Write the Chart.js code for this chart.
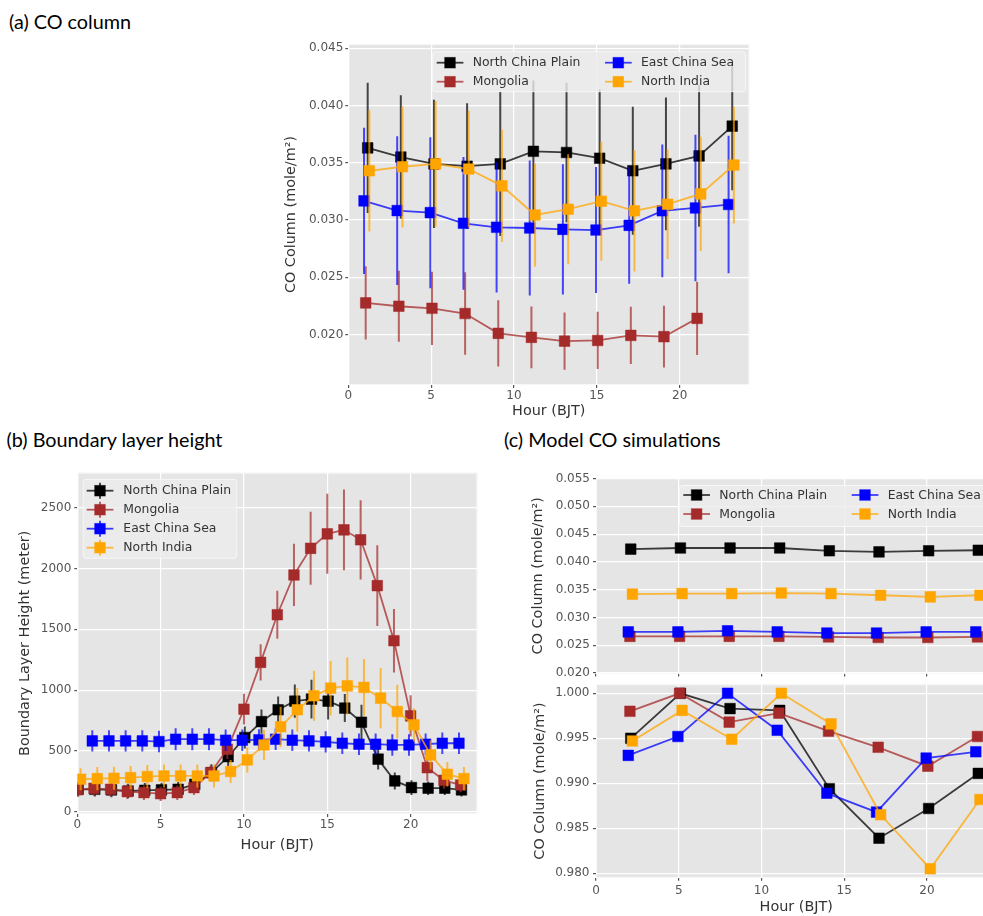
<!DOCTYPE html>
<html>
<head>
<meta charset="utf-8">
<script src="https://cdn.jsdelivr.net/npm/chart.js"></script>
<style>
  html, body { margin: 0; padding: 0; background: #fff; overflow: hidden; }
  body { position: relative; width: 983px; height: 916px; }
  .ptitle { position: absolute; font-family: Lato, sans-serif; font-size: 19.8px; line-height: 20px; color: #000; white-space: nowrap; }
  canvas { position: absolute; }
</style>
</head>
<body>
<div class="ptitle" style="left:9px;top:11px">(a) CO column</div>
<div class="ptitle" style="left:6.5px;top:428.5px">(b) Boundary layer height</div>
<div class="ptitle" style="left:504px;top:428.5px">(c) Model CO simulations</div>

<canvas id="chartA" width="500" height="400" style="left:260px;top:30px"></canvas>
<canvas id="chartB" width="480" height="400" style="left:0px;top:460px"></canvas>
<canvas id="chartC1" width="510" height="210" style="left:500px;top:470px"></canvas>
<canvas id="chartC2" width="510" height="236" style="left:500px;top:680px"></canvas>

<script>
// regions, in plotting order
const regions = ['North China Plain', 'Mongolia', 'East China Sea', 'North India'];
const regionColors = ['#000000', '#A52A2A', '#0000FF', '#FFA500'];

// tick values
const hourTicks = [0, 5, 10, 15, 20];
const columnTicksA = [0.020, 0.025, 0.030, 0.035, 0.040, 0.045];
const blhTicks = [0, 500, 1000, 1500, 2000, 2500];
const modelTicks = [0.020, 0.025, 0.030, 0.035, 0.040, 0.045, 0.050, 0.055];
const normTicks = [0.980, 0.985, 0.990, 0.995, 1.000];

// (a) observed CO column (mole/m2), every 2 hours
const hoursA = [1, 3, 5, 7, 9, 11, 13, 15, 17, 19, 21, 23];
const ncpColumn = [0.0363, 0.0355, 0.0349, 0.0347, 0.0349, 0.0360, 0.0359, 0.0354, 0.0343, 0.0349, 0.0356, 0.0382];
const ncpColumnErr = [0.0057, 0.0054, 0.0056, 0.0055, 0.0063, 0.0062, 0.0061, 0.0060, 0.0056, 0.0058, 0.0062, 0.0056];
const mongoliaColumn = [0.02275, 0.02246, 0.02228, 0.02182, 0.02009, 0.01974, 0.01941, 0.01947, 0.01991, 0.0198, 0.0214];
const mongoliaColumnErr = [0.0032, 0.0031, 0.0032, 0.0036, 0.0029, 0.0027, 0.0025, 0.0025, 0.0025, 0.0027, 0.0032];
const ecsColumn = [0.03167, 0.03082, 0.03064, 0.02971, 0.02936, 0.0293, 0.02918, 0.02912, 0.02953, 0.0308, 0.03105, 0.03135];
const ecsColumnErr = [0.0064, 0.0065, 0.0066, 0.0058, 0.0057, 0.0059, 0.0057, 0.0055, 0.0051, 0.0058, 0.0064, 0.0060];
const niColumn = [0.0343, 0.03465, 0.0349, 0.03445, 0.03298, 0.03044, 0.03094, 0.03164, 0.0308, 0.03138, 0.03228, 0.0348];
const niColumnErr = [0.0053, 0.0053, 0.0055, 0.0051, 0.0049, 0.0045, 0.0048, 0.0052, 0.0053, 0.0048, 0.0050, 0.0051];
const shiftA = [0.17, 0.05, -0.05, 0.27];

// (b) boundary layer height (meter), hourly
const hoursB = [0, 1, 2, 3, 4, 5, 6, 7, 8, 9, 10, 11, 12, 13, 14, 15, 16, 17, 18, 19, 20, 21, 22, 23];
const ncpBlh = [184, 184, 179, 170, 176, 179, 184, 225, 321, 453, 610, 741, 838, 909, 926, 909, 852, 736, 432, 253, 198, 193, 193, 179];
const ncpBlhErr = [60, 60, 60, 60, 60, 60, 60, 60, 70, 80, 90, 100, 110, 137, 160, 150, 115, 143, 85, 70, 60, 55, 55, 55];
const mongoliaBlh = [180, 192, 184, 165, 157, 148, 157, 198, 321, 514, 843, 1228, 1620, 1947, 2166, 2285, 2318, 2236, 1859, 1406, 788, 362, 258, 220];
const mongoliaBlhErr = [60, 60, 60, 60, 60, 60, 60, 60, 60, 80, 126, 150, 198, 256, 300, 329, 332, 326, 332, 261, 170, 110, 70, 60];
const hoursEcsB = [1, 2, 3, 4, 5, 6, 7, 8, 9, 10, 11, 12, 13, 14, 15, 16, 17, 18, 19, 20, 21, 22, 23];
const ecsBlh = [582, 582, 582, 582, 577, 596, 596, 596, 588, 588, 591, 596, 588, 582, 574, 563, 555, 555, 549, 549, 555, 563, 563];
const ecsBlhErr = [88, 88, 88, 88, 88, 90, 90, 90, 88, 88, 88, 88, 88, 88, 88, 88, 88, 88, 88, 88, 88, 88, 88];
const niBlh = [267, 272, 275, 280, 289, 294, 294, 294, 294, 330, 426, 549, 698, 838, 953, 1016, 1035, 1022, 934, 824, 714, 467, 308, 272];
const niBlhErr = [90, 95, 95, 95, 95, 95, 95, 95, 95, 95, 104, 124, 165, 180, 206, 223, 233, 233, 247, 220, 137, 120, 100, 95];
const shiftB = [0.05, 0, -0.1, 0.2];

// (c) model CO column (mole/m2) and normalised model CO, every 3 hours
const hoursC = [2, 5, 8, 11, 14, 17, 20, 23];
const ncpModel = [0.0423, 0.0425, 0.0425, 0.0425, 0.0420, 0.0418, 0.0420, 0.0421];
const mongoliaModel = [0.0266, 0.0266, 0.0266, 0.0266, 0.0265, 0.0264, 0.0264, 0.0265];
const ecsModel = [0.0274, 0.0274, 0.0276, 0.0274, 0.0272, 0.0272, 0.0274, 0.0274];
const niModel = [0.0342, 0.0343, 0.0343, 0.0344, 0.0343, 0.0340, 0.0337, 0.0340];
const ncpNorm = [0.9950, 1.0000, 0.9983, 0.9981, 0.9894, 0.9839, 0.9872, 0.9911];
const mongoliaNorm = [0.9980, 1.0000, 0.9968, 0.9978, 0.9958, 0.9940, 0.9919, 0.9952];
const ecsNorm = [0.9931, 0.9952, 1.0000, 0.9959, 0.9889, 0.9868, 0.9928, 0.9935];
const niNorm = [0.9947, 0.9981, 0.9949, 1.0000, 0.9966, 0.9865, 0.9805, 0.9882];
const shiftC = [0.1, 0.05, -0.05, 0.2];

const tickFont = { family: 'DejaVu Sans', size: 12 };
const titleFont = { family: 'DejaVu Sans', size: 14.4 };

function rgba(hex, a) {
  const n = parseInt(hex.slice(1), 16);
  return `rgba(${(n >> 16) & 255}, ${(n >> 8) & 255}, ${n & 255}, ${a})`;
}

function series(idx, hours, values, errors, shift) {
  const c = regionColors[idx];
  return {
    label: regions[idx],
    data: values.map((v, i) => ({ x: hours[i] + shift, y: v })),
    errors: errors,
    errorColor: rgba(c, 0.7),
    order: 4 - idx,
    borderColor: rgba(c, 0.75),
    borderWidth: 1.8,
    tension: 0,
    pointStyle: 'rect',
    pointRadius: 7.5,
    pointBackgroundColor: c,
    pointBorderColor: rgba(c, 0.5),
    pointBorderWidth: 1
  };
}

// grey ggplot-like panel
const panelBackground = {
  id: 'panelBackground',
  beforeDraw(chart) {
    const { ctx, chartArea: a } = chart;
    ctx.save();
    ctx.fillStyle = '#E5E5E5';
    ctx.fillRect(a.left, a.top, a.width, a.height);
    ctx.restore();
  },
  beforeDatasetsDraw(chart) {
    const { ctx, chartArea: a } = chart;
    ctx.save();
    ctx.strokeStyle = 'rgba(255,255,255,0.7)';
    ctx.lineWidth = 1;
    ctx.strokeRect(a.left + 0.5, a.top + 0.5, a.width - 1, a.height - 1);
    ctx.restore();
  }
};

// vertical error bars, placed with the chart's own scales
const errorBars = {
  id: 'errorBars',
  beforeDatasetDraw(chart, args) {
    const ds = chart.data.datasets[args.index];
    if (!ds.errors) return;
    const { ctx, chartArea: a, scales: { x, y } } = chart;
    ctx.save();
    ctx.beginPath();
    ctx.rect(a.left, a.top, a.width, a.height);
    ctx.clip();
    ctx.strokeStyle = ds.errorColor;
    ctx.lineWidth = 2;
    ds.data.forEach((p, i) => {
      const px = x.getPixelForValue(p.x);
      ctx.beginPath();
      ctx.moveTo(px, y.getPixelForValue(p.y - ds.errors[i]));
      ctx.lineTo(px, y.getPixelForValue(p.y + ds.errors[i]));
      ctx.stroke();
    });
    ctx.restore();
  }
};

// matplotlib style legend box (column-major)
const boxLegend = {
  id: 'boxLegend',
  afterDraw(chart, args, o) {
    const { ctx, chartArea } = chart;
    const bx = chartArea.left + o.dx, by = chartArea.top + o.dy;
    ctx.save();
    ctx.fillStyle = 'rgba(236,236,236,0.8)';
    ctx.strokeStyle = 'rgba(250,250,250,0.8)';
    ctx.lineWidth = 1;
    ctx.beginPath();
    ctx.roundRect(bx, by, o.w, o.h, 3);
    ctx.fill();
    ctx.stroke();
    ctx.font = '12.4px "DejaVu Sans"';
    ctx.textBaseline = 'middle';
    chart.data.datasets.forEach((ds, i) => {
      const col = Math.floor(i / o.rows.length), row = i % o.rows.length;
      const hx = bx + o.cols[col], hy = by + o.rows[row];
      const cx = hx + 13.3;
      ctx.strokeStyle = ds.borderColor;
      ctx.lineWidth = ds.borderWidth;
      ctx.beginPath();
      ctx.moveTo(hx, hy);
      ctx.lineTo(hx + 26.7, hy);
      ctx.stroke();
      if (o.errorBars) {
        ctx.strokeStyle = ds.errorColor;
        ctx.lineWidth = 2;
        ctx.beginPath();
        ctx.moveTo(cx, hy - 8);
        ctx.lineTo(cx, hy + 8);
        ctx.stroke();
      }
      ctx.fillStyle = ds.pointBackgroundColor;
      ctx.fillRect(cx - 5.3, hy - 5.3, 10.6, 10.6);
      ctx.strokeStyle = ds.pointBorderColor;
      ctx.lineWidth = 1;
      ctx.strokeRect(cx - 5.3, hy - 5.3, 10.6, 10.6);
      ctx.fillStyle = '#333';
      ctx.fillText(ds.label, hx + o.textDx, hy + 0.5);
    });
    ctx.restore();
  }
};

function xAxis(o) {
  return {
    type: 'linear', min: o.min, max: o.max,
    ticks: { display: o.labels, color: '#555', font: tickFont, padding: o.tickPad, maxRotation: 0, autoSkip: false },
    grid: { color: '#fff', lineWidth: 1.2, tickColor: '#555', tickLength: 3 },
    border: { display: false },
    title: { display: !!o.title, text: o.title, color: '#333', font: titleFont, padding: { top: 0, bottom: o.titlePad } },
    afterBuildTicks(scale) {
      scale.ticks = hourTicks.map(v => ({ value: v }));
    },
    afterFit(scale) {
      scale.height = o.height;
      scale.paddingLeft = 0;
      scale.paddingRight = 0;
    }
  };
}

function yAxis(o) {
  return {
    type: 'linear', min: o.min, max: o.max,
    ticks: { color: '#555', font: tickFont, padding: o.tickPad, autoSkip: false, callback: v => v.toFixed(o.decimals) },
    grid: { color: '#fff', lineWidth: 1.2, tickColor: '#555', tickLength: 3 },
    border: { display: false },
    title: { display: true, text: o.title, color: '#333', font: titleFont, padding: { top: o.titlePad, bottom: 0 } },
    afterBuildTicks(scale) {
      scale.ticks = o.ticks.map(v => ({ value: v }));
    },
    afterFit(scale) {
      scale.width = o.width;
      scale.paddingTop = 0;
      scale.paddingBottom = 0;
    }
  };
}

function makeChart(id, datasets, cfg) {
  return new Chart(document.getElementById(id), {
    type: 'line',
    data: { datasets: datasets },
    options: {
      responsive: false,
      animation: false,
      events: [],
      layout: { padding: cfg.padding, autoPadding: false },
      scales: { x: xAxis(cfg.x), y: yAxis(cfg.y) },
      plugins: {
        legend: { display: false },
        tooltip: { enabled: false },
        boxLegend: cfg.legend || false
      }
    },
    plugins: [panelBackground, errorBars, boxLegend]
  });
}

const coTitle = 'CO Column (mole/m\u00B2)';

// (a)
makeChart('chartA', [
  series(0, hoursA, ncpColumn, ncpColumnErr, shiftA[0]),
  series(1, hoursA, mongoliaColumn, mongoliaColumnErr, shiftA[1]),
  series(2, hoursA, ecsColumn, ecsColumnErr, shiftA[2]),
  series(3, hoursA, niColumn, niColumnErr, shiftA[3])
], {
  padding: { top: 14, right: 10.7, bottom: 0, left: 0 },
  x: { min: 0, max: 24.2, height: 45, labels: true, tickPad: 1, title: 'Hour (BJT)', titlePad: 10.4 },
  y: { min: 0.015576, max: 0.04538, ticks: columnTicksA, decimals: 3, width: 88.3, tickPad: 2, title: coTitle, titlePad: 22.4 },
  legend: { dx: 84.4, dy: 7.7, w: 313, h: 40, rows: [11, 30], cols: [4, 172.3], textDx: 36, errorBars: false }
});

// (b)
makeChart('chartB', [
  series(0, hoursB, ncpBlh, ncpBlhErr, shiftB[0]),
  series(1, hoursB, mongoliaBlh, mongoliaBlhErr, shiftB[1]),
  series(2, hoursEcsB, ecsBlh, ecsBlhErr, shiftB[2]),
  series(3, hoursB, niBlh, niBlhErr, shiftB[3])
], {
  padding: { top: 12.7, right: 2.7, bottom: 0, left: 0 },
  x: { min: 0, max: 24, height: 46, labels: true, tickPad: 1, title: 'Hour (BJT)', titlePad: 6.4 },
  y: { min: -19, max: 2788, ticks: blhTicks, decimals: 0, width: 77.3, tickPad: 3, title: 'Boundary Layer Height (meter)', titlePad: 16.4 },
  legend: { dx: 6, dy: 6.6, w: 153.4, h: 79, rows: [11.4, 30.4, 49.4, 68.4], cols: [3.4], textDx: 36.6, errorBars: true }
});

// (c) top: model CO column
makeChart('chartC1', [
  series(0, hoursC, ncpModel, null, shiftC[0]),
  series(1, hoursC, mongoliaModel, null, shiftC[1]),
  series(2, hoursC, ecsModel, null, shiftC[2]),
  series(3, hoursC, niModel, null, shiftC[3])
], {
  padding: { top: 8, right: 13.5, bottom: 0, left: 0 },
  x: { min: 0, max: 24.2, height: 6.4, labels: false, tickPad: 1, title: '', titlePad: 0 },
  y: { min: 0.0199, max: 0.0551, ticks: modelTicks, decimals: 3, width: 96, tickPad: 3, title: coTitle, titlePad: 29.7 },
  legend: { dx: 83.3, dy: 7.5, w: 320, h: 41, rows: [9.5, 28.5], cols: [4, 172.4], textDx: 36, errorBars: false }
});

// (c) bottom: normalised model CO column
makeChart('chartC2', [
  series(0, hoursC, ncpNorm, null, shiftC[0]),
  series(1, hoursC, mongoliaNorm, null, shiftC[1]),
  series(2, hoursC, ecsNorm, null, shiftC[2]),
  series(3, hoursC, niNorm, null, shiftC[3])
], {
  padding: { top: 4.3, right: 13.5, bottom: 0, left: 0 },
  x: { min: 0, max: 24.2, height: 38.2, labels: true, tickPad: 3, title: 'Hour (BJT)', titlePad: 0.4 },
  y: { min: 0.9795, max: 1.0010, ticks: normTicks, decimals: 3, width: 96, tickPad: 3.5, title: coTitle, titlePad: 31.4 }
});
</script>
</body>
</html>
